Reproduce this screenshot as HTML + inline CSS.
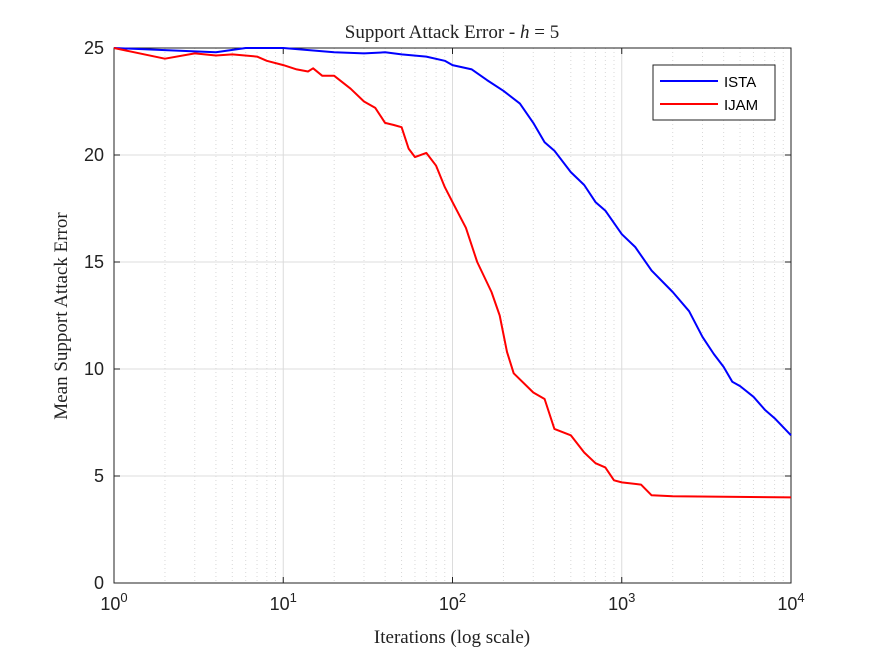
<!DOCTYPE html>
<html><head><meta charset="utf-8"><style>
body{margin:0;background:#fff;}
svg text{font-family:"Liberation Sans",sans-serif;}
.ser{font-family:"Liberation Serif",serif;}
</style></head><body>
<svg id="c" width="875" height="656" xmlns="http://www.w3.org/2000/svg">
<g id="grid"></g>
<g id="axes"></g>
<g id="series"></g>
<text class="ser" x="452" y="38" text-anchor="middle" font-size="19" fill="#222">Support Attack Error - <tspan font-style="italic">h</tspan> = 5</text>
<text class="ser" x="452" y="643" text-anchor="middle" font-size="19" fill="#222">Iterations (log scale)</text>
<text class="ser" x="0" y="0" transform="translate(67,316) rotate(-90)" text-anchor="middle" font-size="19" fill="#222">Mean Support Attack Error</text>
<g>
<rect x="653" y="65" width="122" height="55" fill="#fff" stroke="#222" stroke-width="1"/>
<g><line x1="660" y1="81" x2="718" y2="81" stroke="#0000ff" stroke-width="2"/><text x="724" y="87" font-size="15" fill="#000">ISTA</text></g>
<g><line x1="660" y1="104" x2="718" y2="104" stroke="#ff0000" stroke-width="2"/><text x="724" y="110" font-size="15" fill="#000">IJAM</text></g>
</g>
</svg>
<script>
const istaIter=[1,2,4,6,10,20,30,40,50,70,90,100,130,160,200,250,300,350,400,500,600,700,800,1000,1200,1500,2000,2500,3000,3500,4000,4500,5000,6000,7000,8000,10000];
const istaVal=[25,24.9,24.8,25,25,24.8,24.75,24.8,24.7,24.6,24.4,24.2,24,23.5,23,22.4,21.5,20.6,20.2,19.2,18.6,17.8,17.4,16.3,15.7,14.6,13.6,12.7,11.5,10.7,10.1,9.4,9.2,8.7,8.1,7.7,6.9];
const ijamIter=[1,2,3,4,5,7,8,10,12,14,15,17,20,25,30,35,40,45,50,55,60,70,80,90,100,120,140,170,190,210,230,300,350,400,500,600,700,800,900,1000,1300,1500,2000,10000];
const ijamVal=[25,24.5,24.75,24.65,24.7,24.6,24.4,24.2,24,23.9,24.05,23.7,23.7,23.1,22.5,22.2,21.5,21.4,21.3,20.3,19.9,20.1,19.5,18.5,17.8,16.6,15.0,13.6,12.5,10.8,9.8,8.9,8.6,7.2,6.9,6.1,5.6,5.4,4.8,4.7,4.6,4.1,4.05,4.0];
const yTicks=[0,5,10,15,20,25];
const xDecades=[0,1,2,3,4];
const L=114,R=791,T=48,B=583;
const xs=v=>L+(Math.log10(v)/4)*(R-L);
const ys=v=>B-(v/25)*(B-T);
const NS="http://www.w3.org/2000/svg";
function mk(t,a,p){const e=document.createElementNS(NS,t);for(const k in a)e.setAttribute(k,a[k]);p.appendChild(e);return e;}
const grid=document.getElementById('grid'),axes=document.getElementById('axes'),ser=document.getElementById('series');
mk('rect',{x:L,y:T,width:R-L,height:B-T,fill:'#fff'},grid);
xDecades.forEach(d=>{
  if(d<4)for(let m=2;m<10;m++){const x=xs(m*Math.pow(10,d));
    const g=mk('line',{x1:x,x2:x,y1:T,y2:B,stroke:'#d8d8d8','stroke-dasharray':'1,3','stroke-width':1},grid);
    
    }
  const x=xs(Math.pow(10,d));
  const g=mk('line',{x1:x,x2:x,y1:T,y2:B,stroke:'#dcdcdc','stroke-width':1},grid);
  
  
  const t=mk('text',{x:x,y:B+27,'text-anchor':'middle','font-size':18,fill:'#222'},axes);
  
  
  t.textContent='10';
  const s=mk('tspan',{dy:-8,'font-size':13},t);s.textContent=String(d);
  mk('line',{x1:x,x2:x,y1:B,y2:B-6,stroke:'#222'},axes);
  mk('line',{x1:x,x2:x,y1:T,y2:T+6,stroke:'#222'},axes);
});
yTicks.forEach(v=>{const y=ys(v);
  const g=mk('line',{x1:L,x2:R,y1:y,y2:y,stroke:'#dcdcdc','stroke-width':1},grid);
  
  
  const t=mk('text',{x:L-10,y:y+6,'text-anchor':'end','font-size':18,fill:'#222'},axes);
  
  
  t.textContent=v;
  mk('line',{x1:L,x2:L+6,y1:y,y2:y,stroke:'#222'},axes);
  mk('line',{x1:R,x2:R-6,y1:y,y2:y,stroke:'#222'},axes);
});
mk('rect',{x:L,y:T,width:R-L,height:B-T,fill:'none',stroke:'#222','stroke-width':1},axes);
function line(it,vals,col,name){
  const d=it.map((v,i)=>(i?'L':'M')+xs(v).toFixed(1)+','+ys(vals[i]).toFixed(1)).join('');
  const p=mk('path',{d:d,fill:'none',stroke:col,'stroke-width':2,'stroke-linejoin':'round'},ser);
  
  
}
line(istaIter,istaVal,'#0000ff','ista-line');
line(ijamIter,ijamVal,'#ff0000','ijam-line');
</script>
</body></html>
